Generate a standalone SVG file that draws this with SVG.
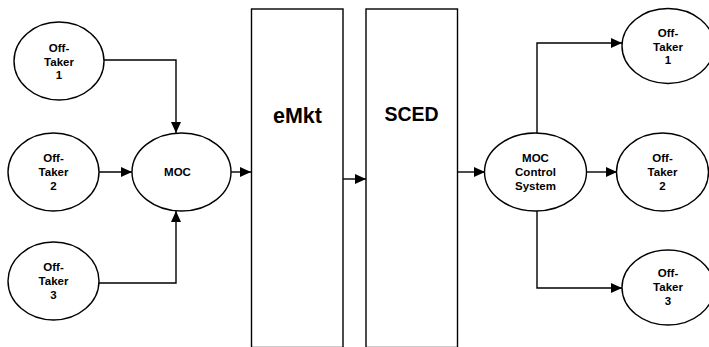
<svg xmlns="http://www.w3.org/2000/svg" width="709" height="347" viewBox="0 0 709 347">
<defs>
<style>
.n{fill:#fff;stroke:#000;stroke-width:1.4}
.t{font-family:"Liberation Sans",Arial,sans-serif;font-weight:bold;font-size:11.5px;fill:#000;text-anchor:middle}
.big{font-family:"Liberation Sans",Arial,sans-serif;font-weight:bold;fill:#000;text-anchor:middle}
.c{fill:none;stroke:#000;stroke-width:1.4}
</style>
<marker id="ah" markerUnits="userSpaceOnUse" markerWidth="12" markerHeight="11" refX="11" refY="5" orient="auto" viewBox="0 0 12 10">
<path d="M0,0 L11,5 L0,10 z" fill="#000"/>
</marker>
</defs>
<rect width="709" height="347" fill="#fff"/>
<g id="connectors">
<path class="c" d="M104,60 H176 V133" marker-end="url(#ah)"/>
<path class="c" d="M99,172 H132" marker-end="url(#ah)"/>
<path class="c" d="M99,283 H176 V211" marker-end="url(#ah)"/>
<path class="c" d="M231,172 H251" marker-end="url(#ah)"/>
<path class="c" d="M343,179 H366" marker-end="url(#ah)"/>
<path class="c" d="M458,172 H485" marker-end="url(#ah)"/>
<path class="c" d="M537,133 V43 H622" marker-end="url(#ah)"/>
<path class="c" d="M587,172 H617" marker-end="url(#ah)"/>
<path class="c" d="M537,211 V288 H622" marker-end="url(#ah)"/>
</g>
<g id="offtaker-l1">
<ellipse class="n" cx="59" cy="61" rx="45" ry="39"/>
<text class="t" x="59" y="51.7">Off-</text>
<text class="t" x="59" y="65.5">Taker</text>
<text class="t" x="59" y="79.3">1</text>
</g>
<g id="offtaker-l2">
<ellipse class="n" cx="53.5" cy="172" rx="45.5" ry="39"/>
<text class="t" x="53.5" y="162.3">Off-</text>
<text class="t" x="53.5" y="176">Taker</text>
<text class="t" x="53.5" y="189.7">2</text>
</g>
<g id="offtaker-l3">
<ellipse class="n" cx="53.5" cy="281" rx="45.5" ry="39"/>
<text class="t" x="53.5" y="271.3">Off-</text>
<text class="t" x="53.5" y="285">Taker</text>
<text class="t" x="53.5" y="298.7">3</text>
</g>
<g id="moc">
<ellipse class="n" cx="181.5" cy="172" rx="49.5" ry="39"/>
<text class="t" x="177.5" y="175.7">MOC</text>
</g>
<g id="emkt">
<rect class="n" x="251.5" y="9" width="91.5" height="338.5"/>
<text class="big" x="297.5" y="123.3" font-size="21.5">eMkt</text>
</g>
<g id="sced">
<rect class="n" x="366" y="9" width="91.5" height="338.5"/>
<text class="big" x="411.5" y="120.7" font-size="19.5">SCED</text>
</g>
<g id="moc-control">
<ellipse class="n" cx="535.5" cy="172" rx="51" ry="39"/>
<text class="t" x="535.5" y="162.3">MOC</text>
<text class="t" x="535.5" y="176">Control</text>
<text class="t" x="535.5" y="189.7">System</text>
</g>
<g id="offtaker-r1">
<ellipse class="n" cx="668" cy="46" rx="46" ry="37.5"/>
<text class="t" x="668" y="37">Off-</text>
<text class="t" x="668" y="50.7">Taker</text>
<text class="t" x="668" y="64.4">1</text>
</g>
<g id="offtaker-r2">
<ellipse class="n" cx="662.5" cy="172" rx="46" ry="39"/>
<text class="t" x="662.5" y="162.3">Off-</text>
<text class="t" x="662.5" y="176">Taker</text>
<text class="t" x="662.5" y="189.7">2</text>
</g>
<g id="offtaker-r3">
<ellipse class="n" cx="668" cy="287.5" rx="46" ry="37.5"/>
<text class="t" x="668" y="277.3">Off-</text>
<text class="t" x="668" y="291">Taker</text>
<text class="t" x="668" y="304.7">3</text>
</g>
</svg>
